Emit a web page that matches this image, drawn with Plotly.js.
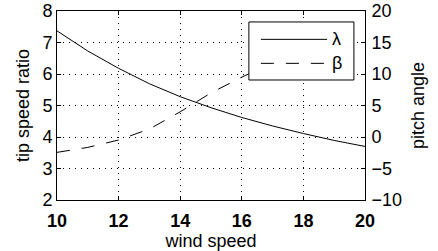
<!DOCTYPE html>
<html><head><meta charset="utf-8">
<script src="https://cdn.plot.ly/plotly-3.0.1.min.js"></script>
<style>html,body{margin:0;padding:0;background:#fff}#chart{width:438px;height:251px}</style>
</head><body><div id="chart"></div>
<script>
const windSpeed = [10, 11, 12, 13, 14, 15, 16, 17, 18, 19, 20];
const tipSpeedRatio = [7.37, 6.73, 6.18, 5.69, 5.28, 4.93, 4.62, 4.35, 4.11, 3.89, 3.70];
const windSpeedPitch = [10, 11, 12, 13, 14, 15, 16, 17, 18];
const pitchAngle = [-2.44, -1.65, -0.48, 1.27, 4.0, 7.0, 9.5, 11.8, 13.8];
const xTicks = [10, 12, 14, 16, 18, 20];
const leftTicks = [2, 3, 4, 5, 6, 7, 8];
const rightTicks = [-10, -5, 0, 5, 10, 15, 20];
const rightTickText = ['\u221210', '\u22125', '0', '5', '10', '15', '20'];
const legendLabels = ['\u03bb', '\u03b2'];

const FONT = 'Liberation Sans, Arial, Helvetica, sans-serif';
const FS = 18;
const dashPat = '13px,12px';
const gridDash = '1px,5px';

const traces = [
  {x: windSpeed, y: tipSpeedRatio, type: 'scatter', mode: 'lines', name: legendLabels[0],
   line: {color: '#000', width: 1}, xaxis: 'x', yaxis: 'y', showlegend: false},
  {x: windSpeedPitch, y: pitchAngle, type: 'scatter', mode: 'lines', name: legendLabels[1],
   line: {color: '#000', width: 1, dash: dashPat}, xaxis: 'x', yaxis: 'y2', showlegend: false}
];

// legend box (paper coords)
const lg = {x0: 0.623, x1: 0.964, y0: 0.635, y1: 0.942, lx0: 0.662, lx1: 0.877, ly: [0.850, 0.723]};

const layout = {
  width: 438, height: 251,
  margin: {l: 57, r: 73, t: 11, b: 51, pad: 0},
  paper_bgcolor: '#fff', plot_bgcolor: '#fff',
  font: {family: FONT, color: '#000', size: FS},
  showlegend: false,
  xaxis: {
    range: [10, 20], tickvals: xTicks, ticks: 'inside', ticklen: 4, tickcolor: '#000',
    showline: true, linecolor: '#000', linewidth: 1, mirror: 'ticks',
    showgrid: true, gridcolor: '#000', gridwidth: 1, griddash: gridDash,
    zeroline: false, ticklabelstandoff: 4, tickfont: {size: FS, family: FONT, weight: 'bold'},
    title: {text: 'wind speed', font: {size: FS, family: FONT}, standoff: 3}
  },
  yaxis: {
    range: [2, 8], tickvals: leftTicks, ticks: 'inside', ticklen: 4, tickcolor: '#000',
    showline: true, linecolor: '#000', linewidth: 1,
    showgrid: true, gridcolor: '#000', gridwidth: 1, griddash: gridDash,
    zeroline: false, tickfont: {size: FS, family: FONT},
    title: {text: 'tip speed ratio', font: {size: FS, family: FONT}, standoff: 8}
  },
  yaxis2: {
    range: [-10, 20], tickvals: rightTicks, ticktext: rightTickText, overlaying: 'y', side: 'right',
    ticks: 'inside', ticklen: 4, tickcolor: '#000',
    showline: true, linecolor: '#000', linewidth: 1, showgrid: false, zeroline: false,
    ticklabelstandoff: 2, tickfont: {size: FS, family: FONT},
    title: {text: 'pitch angle', font: {size: FS, family: FONT}, standoff: 10}
  },
  shapes: [
    {type: 'rect', xref: 'paper', yref: 'paper', x0: lg.x0, x1: lg.x1, y0: lg.y0, y1: lg.y1,
     fillcolor: '#fff', line: {color: '#000', width: 1}, layer: 'above'},
    {type: 'line', xref: 'paper', yref: 'paper', x0: lg.lx0, x1: lg.lx1, y0: lg.ly[0], y1: lg.ly[0],
     line: {color: '#000', width: 1}, layer: 'above'},
    {type: 'line', xref: 'paper', yref: 'paper', x0: lg.lx0, x1: lg.lx1, y0: lg.ly[1], y1: lg.ly[1],
     line: {color: '#000', width: 1, dash: dashPat}, layer: 'above'}
  ],
  annotations: legendLabels.map((t, i) => ({
    text: t, xref: 'paper', yref: 'paper', x: lg.lx1 + 0.008, y: lg.ly[i],
    xanchor: 'left', yanchor: 'middle', showarrow: false, font: {size: FS, family: FONT}
  }))
};

Plotly.newPlot('chart', traces, layout, {staticPlot: true, displayModeBar: false});
</script></body></html>
